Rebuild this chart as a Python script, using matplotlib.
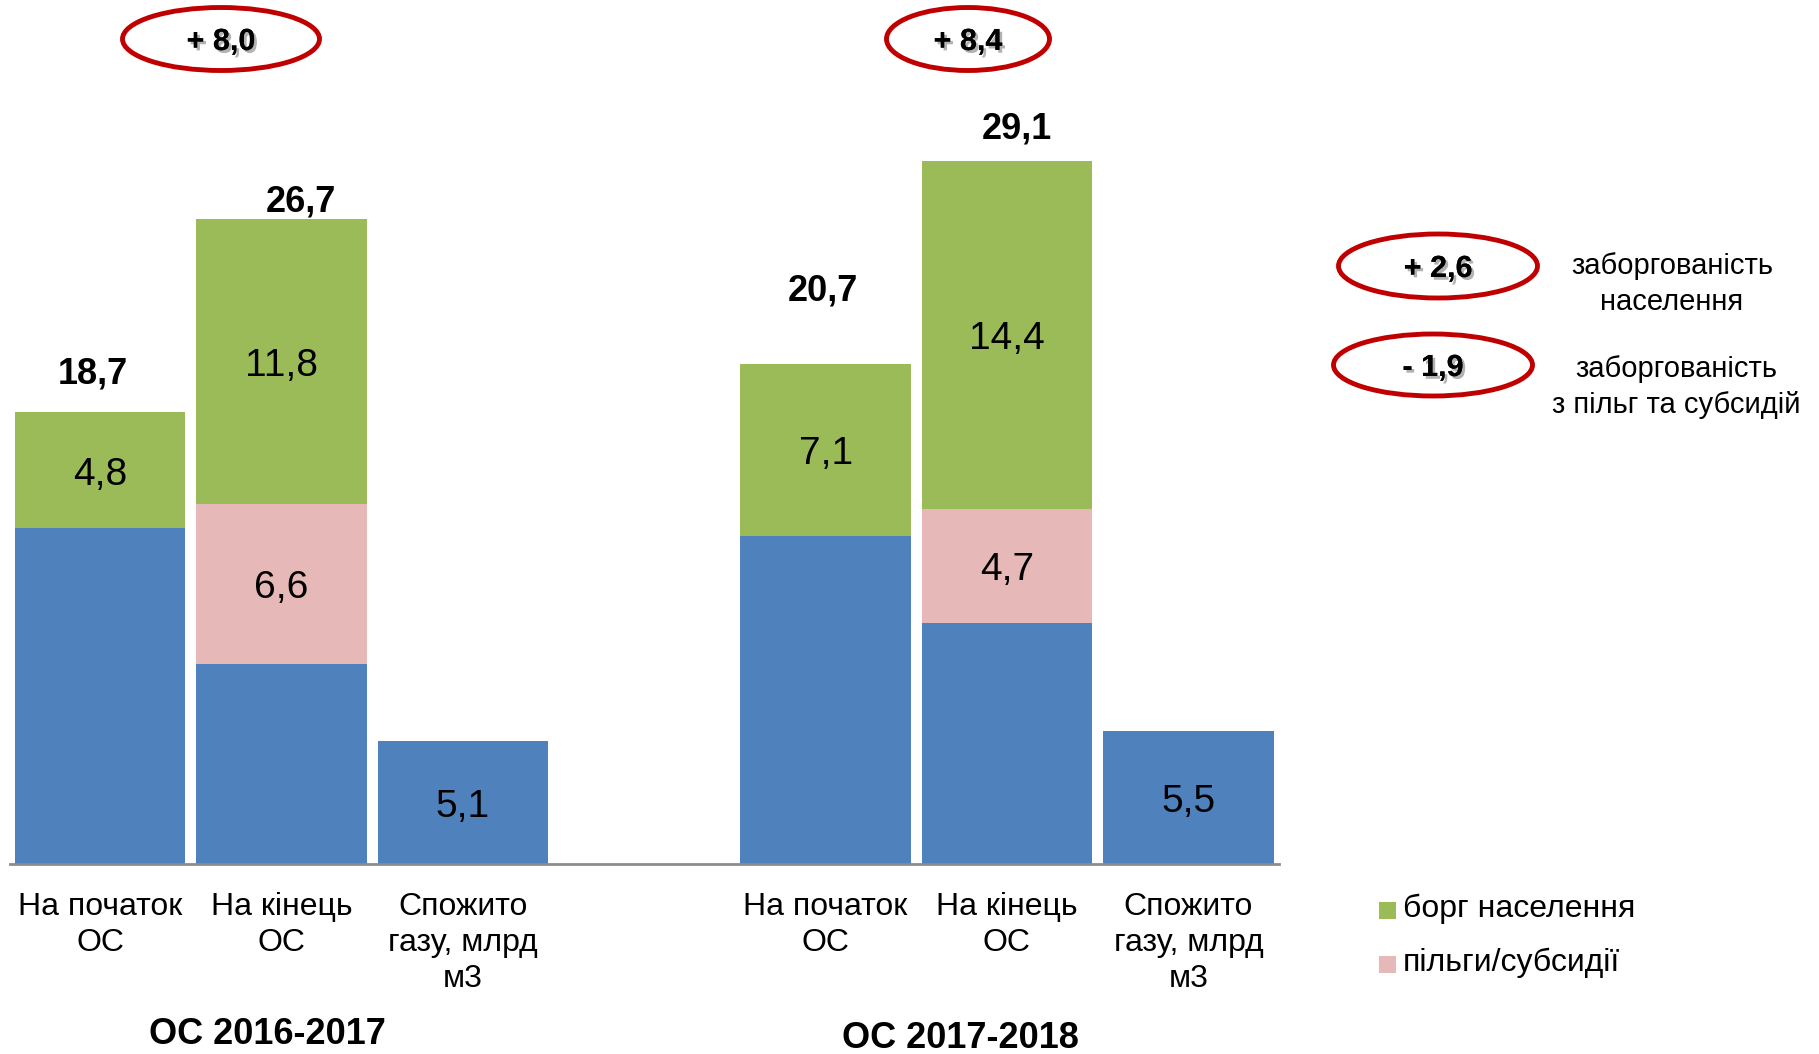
import matplotlib
matplotlib.use("Agg")
import matplotlib.pyplot as plt
from matplotlib.patches import Ellipse, Rectangle
import matplotlib.patheffects as pe

plt.rcParams['font.family'] = ['Liberation Sans', 'DejaVu Sans']

# ---- data ----
categories = ["На початок\nОС", "На кінець\nОС", "Спожито\nгазу, млрд\nм3",
              "На початок\nОС", "На кінець\nОС", "Спожито\nгазу, млрд\nм3"]
positions = [0, 1, 2, 4, 5, 6]
base_vals = [13.9, 8.3, 5.1, 13.6, 10.0, 5.5]       # blue
subsidy_vals = [0.0, 6.6, 0.0, 0.0, 4.7, 0.0]       # pink
household_vals = [4.8, 11.8, 0.0, 7.1, 14.4, 0.0]   # green
totals = [18.7, 26.7, None, 20.7, 29.1, None]
base_labels = [None, None, "5,1", None, None, "5,5"]
subsidy_labels = [None, "6,6", None, None, "4,7", None]
household_labels = ["4,8", "11,8", None, "7,1", "14,4", None]
total_labels = ["18,7", "26,7", None, "20,7", "29,1", None]
group_titles = ["ОС 2016-2017", "ОС 2017-2018"]
change_labels = ["+ 8,0", "+ 8,4"]
side_changes = ["+ 2,6", "- 1,9"]
side_texts = ["заборгованість\nнаселення", "заборгованість\nз пільг та субсидій"]
legend_labels = ["борг населення", "пільги/субсидії"]

BLUE = "#4F81BD"
PINK = "#E6B9B8"
GREEN = "#9BBB59"
RED = "#C00000"

W, H = 1819, 1054
fig = plt.figure(figsize=(W / 100, H / 100), dpi=100)

ax = fig.add_axes([9.5 / W, 1 - 864 / H, (1279 - 9.5) / W, 864 / H])
ax.set_xlim(-0.5, 6.5)
ax.set_ylim(0, 864 / 24.15)

bw = 0.94
ax.bar(positions, base_vals, bw, color=BLUE, linewidth=0)
ax.bar(positions, subsidy_vals, bw, bottom=base_vals, color=PINK, linewidth=0)
bottoms3 = [b + s for b, s in zip(base_vals, subsidy_vals)]
ax.bar(positions, household_vals, bw, bottom=bottoms3, color=GREEN, linewidth=0)


def seg_label(x, y, s):
    ax.annotate(s, (x, y), xytext=(0, -3), textcoords='offset points',
                ha='center', va='center', fontsize=28)


for i, x in enumerate(positions):
    if base_labels[i]:
        seg_label(x, base_vals[i] / 2, base_labels[i])
    if subsidy_labels[i]:
        seg_label(x, base_vals[i] + subsidy_vals[i] / 2, subsidy_labels[i])
    if household_labels[i]:
        seg_label(x, bottoms3[i] + household_vals[i] / 2, household_labels[i])

# total label offsets (points) relative to bar top
total_offsets = [(-5, 27.5), (14, 12.5), None, (-2, 52.5), (7, 23), None]
for i, x in enumerate(positions):
    if total_labels[i]:
        dx, dy = total_offsets[i]
        ax.annotate(total_labels[i], (x, totals[i]), xytext=(dx, dy),
                    textcoords='offset points', ha='center', va='center',
                    fontsize=26, fontweight='bold')

ax.set_xticks(positions)
ax.set_xticklabels(categories, fontsize=23, linespacing=1.26)
ax.tick_params(axis='x', length=0, pad=20)
ax.set_yticks([])
for s in ['top', 'right', 'left']:
    ax.spines[s].set_visible(False)
ax.spines['bottom'].set_color('#8C8C8C')
ax.spines['bottom'].set_linewidth(2)

# overlay in pixel coordinates for annotations
ov = fig.add_axes([0, 0, 1, 1])
ov.set_xlim(0, W)
ov.set_ylim(H, 0)
ov.axis('off')
ov.patch.set_alpha(0)

shadow = [pe.withSimplePatchShadow(offset=(2, -2), shadow_rgbFace='#555555', alpha=0.45),
          pe.Normal()]

ellipses = [(221, 39, 197, 63), (968, 39, 163, 63)]
for (cx, cy, ew, eh), lab in zip(ellipses, change_labels):
    ov.add_patch(Ellipse((cx, cy), ew, eh, fill=False, edgecolor=RED, linewidth=3.5))
    ov.text(cx, cy + 3, lab, ha='center', va='center', fontsize=22, fontweight='bold',
            path_effects=shadow)

side_ell = [(1438, 266, 199, 64), (1433, 365, 199, 62)]
for (cx, cy, ew, eh), lab in zip(side_ell, side_changes):
    ov.add_patch(Ellipse((cx, cy), ew, eh, fill=False, edgecolor=RED, linewidth=3.5))
    ov.text(cx, cy + 3, lab, ha='center', va='center', fontsize=22, fontweight='bold',
            path_effects=shadow)

ov.text(1672, 284, side_texts[0], ha='center', va='center', fontsize=21, linespacing=1.38)
ov.text(1676, 387, side_texts[1], ha='center', va='center', fontsize=21, linespacing=1.38)

# group titles
ov.text(267, 1034, group_titles[0], ha='center', va='center', fontsize=26, fontweight='bold')
ov.text(960, 1038, group_titles[1], ha='center', va='center', fontsize=26, fontweight='bold')

# legend
for (y, col, lab) in [(909, GREEN, legend_labels[0]), (963, PINK, legend_labels[1])]:
    ov.add_patch(Rectangle((1379, y - 7), 17, 17, facecolor=col, edgecolor='none'))
    ov.text(1403, y, lab, ha='left', va='center', fontsize=23)

fig.savefig("out.png", dpi=100)
